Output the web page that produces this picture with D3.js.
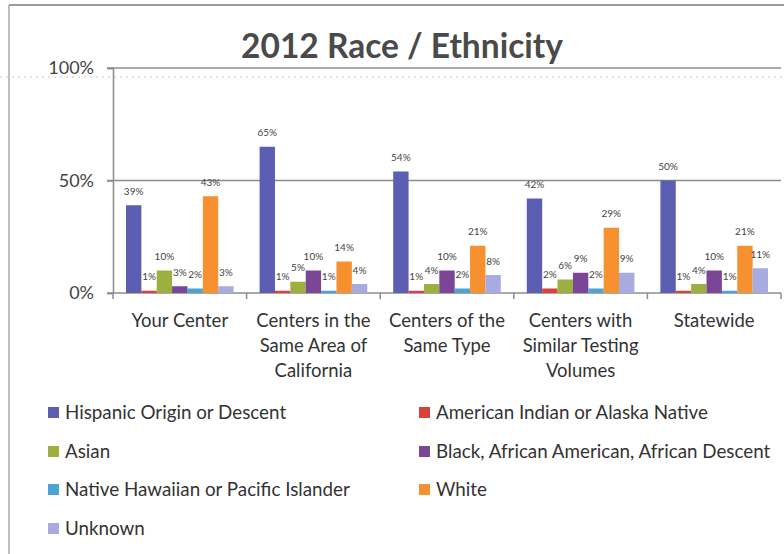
<!DOCTYPE html>
<html>
<head>
<meta charset="utf-8">
<script src="https://cdn.jsdelivr.net/npm/d3@7"></script>
<style>
  html, body { margin: 0; padding: 0; background: #fff; }
  svg { display: block; }
  text { font-family: Lato, "Open Sans", sans-serif; }
</style>
</head>
<body>
<svg id="chart" width="784" height="554"></svg>
<script>
// Groups shown along the x axis (each line of a wrapped label)
const categories = [
  ["Your Center"],
  ["Centers in the", "Same Area of", "California"],
  ["Centers of the", "Same Type"],
  ["Centers with", "Similar Testing", "Volumes"],
  ["Statewide"]
];

// Race / ethnicity series, in legend order
const seriesNames = [
  "Hispanic Origin or Descent",
  "American Indian or Alaska Native",
  "Asian",
  "Black, African American, African Descent",
  "Native Hawaiian or Pacific Islander",
  "White",
  "Unknown"
];

const seriesColors = ["#5b5eb3", "#d8423b", "#9cb040", "#7b4696", "#4ba4d4", "#f7912f", "#a8abe0"];

// Percent of each group, one array per series (same order as categories)
const hispanic       = [39, 65, 54, 42, 50];
const americanIndian = [1, 1, 1, 2, 1];
const asian          = [10, 5, 4, 6, 4];
const black          = [3, 10, 10, 9, 10];
const nativeHawaiian = [2, 1, 2, 2, 1];
const white          = [43, 14, 21, 29, 21];
const unknown        = [3, 4, 8, 9, 11];

const seriesValues = [hispanic, americanIndian, asian, black, nativeHawaiian, white, unknown];

const yTicks = [0, 50, 100];

const svg = d3.select("#chart");

// Page frame and scanned-page rule across the top
svg.append("line").attr("x1", 9).attr("x2", 784).attr("y1", 5).attr("y2", 5)
  .attr("stroke", "#9a9a9a").attr("stroke-width", 2);
svg.append("line").attr("x1", 9).attr("x2", 9).attr("y1", 5).attr("y2", 554)
  .attr("stroke", "#a8a8a8").attr("stroke-width", 1.5);
svg.append("line").attr("x1", 0).attr("x2", 784).attr("y1", 77).attr("y2", 77)
  .attr("stroke", "#c8c8c8").attr("stroke-width", 1).attr("stroke-dasharray", "2,4");

// Title
svg.append("text")
  .attr("x", 402).attr("y", 58)
  .attr("text-anchor", "middle")
  .attr("font-size", 33.5).attr("font-weight", 700)
  .attr("fill", "#4a4a4a")
  .text("2012 Race / Ethnicity");

// Scales
const plotLeft = 113, plotRight = 781, plotTop = 68, plotBottom = 293;
const x0 = d3.scaleBand().domain(d3.range(categories.length)).range([plotLeft, plotRight]);
const groupPad = 13;
const x1 = d3.scaleBand().domain(d3.range(seriesNames.length))
  .range([groupPad, x0.bandwidth() - groupPad]);
const y = d3.scaleLinear().domain([0, 100]).range([plotBottom, plotTop]);

// Horizontal gridlines
svg.append("g").selectAll("line").data(yTicks.filter(t => t > 0)).join("line")
  .attr("x1", plotLeft - 6).attr("x2", plotRight)
  .attr("y1", d => y(d)).attr("y2", d => y(d))
  .attr("stroke", "#8c8c8c").attr("stroke-width", 1.5);

// Y axis
const yAxis = d3.axisLeft(y).tickValues(yTicks).tickFormat(d => d + "%").tickSize(6).tickPadding(13);
const gy = svg.append("g").attr("transform", `translate(${plotLeft},0)`).call(yAxis);
gy.select(".domain").attr("stroke", "#8c8c8c").attr("stroke-width", 1.5);
gy.selectAll(".tick line").attr("stroke", "#8c8c8c").attr("stroke-width", 1.5);
gy.selectAll(".tick text").attr("font-size", 18).attr("fill", "#444").attr("font-family", "Lato, sans-serif");

// X axis with ticks between groups
const xAxisLine = svg.append("g");
xAxisLine.append("line").attr("x1", plotLeft - 6).attr("x2", plotRight)
  .attr("y1", plotBottom).attr("y2", plotBottom)
  .attr("stroke", "#8c8c8c").attr("stroke-width", 1.5);
const boundaries = d3.range(categories.length + 1).map(i => i < categories.length ? x0(i) : x0(i - 1) + x0.bandwidth());
xAxisLine.selectAll("line.tick").data(boundaries).join("line").attr("class", "tick")
  .attr("x1", d => d).attr("x2", d => d)
  .attr("y1", plotBottom).attr("y2", plotBottom + 6)
  .attr("stroke", "#8c8c8c").attr("stroke-width", 1.5);

// Category labels
const catG = svg.append("g").selectAll("text").data(categories).join("text")
  .attr("text-anchor", "middle")
  .attr("font-size", 18.5).attr("fill", "#333")
  .attr("transform", (d, i) => `translate(${x0(i) + x0.bandwidth() / 2},327)`);
catG.selectAll("tspan").data(d => d).join("tspan")
  .attr("x", 0).attr("y", (d, j) => j * 25)
  .text(d => d);

// Bars
const groups = svg.append("g").selectAll("g").data(categories).join("g")
  .attr("transform", (d, i) => `translate(${x0(i)},0)`);

groups.each(function (cat, ci) {
  const g = d3.select(this);
  const vals = seriesValues.map((arr, si) => ({ si, v: arr[ci] }));
  g.selectAll("rect").data(vals).join("rect")
    .attr("x", d => x1(d.si))
    .attr("width", x1.bandwidth())
    .attr("y", d => y(d.v))
    .attr("height", d => plotBottom - y(d.v))
    .attr("fill", d => seriesColors[d.si]);
  g.selectAll("text").data(vals).join("text")
    .attr("x", d => x1(d.si) + x1.bandwidth() / 2)
    .attr("y", d => y(d.v) - 10.5)
    .attr("text-anchor", "middle")
    .attr("font-size", 10).attr("fill", "#444")
    .text(d => d.v + "%");
});

// Legend, two columns
const legendCols = [48, 419];
const legendRows = [412, 451, 489, 528];
const legend = svg.append("g").selectAll("g").data(seriesNames).join("g")
  .attr("transform", (d, i) => `translate(${legendCols[i % 2]},${legendRows[Math.floor(i / 2)]})`);
legend.append("rect").attr("x", 0).attr("y", -5).attr("width", 11).attr("height", 11)
  .attr("fill", (d, i) => seriesColors[i]);
legend.append("text").attr("x", 17).attr("y", 6.5)
  .attr("font-size", 18.8).attr("fill", "#333")
  .text(d => d);
</script>
</body>
</html>
